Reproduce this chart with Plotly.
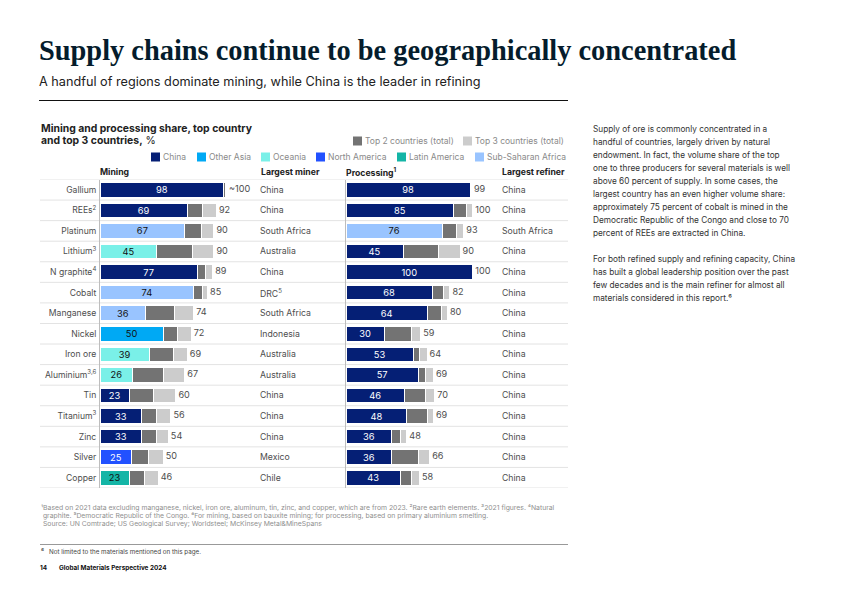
import plotly.graph_objects as go

W, H = 842, 596
FONT = "Inter"
materials = ["Gallium", "REEs<sup>2</sup>", "Platinum", "Lithium<sup>3</sup>", "N graphite<sup>4</sup>", "Cobalt",
             "Manganese", "Nickel", "Iron ore", "Aluminium<sup>3,6</sup>", "Tin", "Titanium<sup>3</sup>", "Zinc", "Silver", "Copper"]
mine_top1 = [98, 69, 67, 45, 77, 74, 36, 50, 39, 26, 23, 33, 33, 25, 23]
mine_top2 = [99, 81, 80, 73, 83, 81, 59, 61, 58, 50, 42, 45, 45, 38, 35]
mine_top3 = [100, 92, 90, 90, 89, 85, 74, 72, 69, 67, 60, 56, 54, 50, 46]
mine_labels = ["~100", "92", "90", "90", "89", "85", "74", "72", "69", "67", "60", "56", "54", "50", "46"]
mine_region = ["China", "China", "Sub-Saharan Africa", "Oceania", "China", "Sub-Saharan Africa", "Sub-Saharan Africa",
               "Other Asia", "Oceania", "Oceania", "China", "China", "China", "North America", "Latin America"]
miners = ["China", "China", "South Africa", "Australia", "China", "DRC<sup>5</sup>", "South Africa", "Indonesia",
          "Australia", "Australia", "China", "China", "China", "Mexico", "Chile"]
proc_top1 = [98, 85, 76, 45, 100, 68, 64, 30, 53, 57, 46, 48, 36, 36, 43]
proc_top2 = [99, 95, 87, 73, 100, 77, 75, 52, 58, 63, 63, 64, 43, 57, 52]
proc_top3 = [99, 100, 93, 90, 100, 82, 80, 59, 64, 69, 70, 69, 48, 66, 58]
proc_region = ["China", "China", "Sub-Saharan Africa"] + ["China"] * 12
refiners = ["China", "China", "South Africa"] + ["China"] * 12

region_colors = {"China": "#051F75", "Other Asia": "#00A9F4", "Oceania": "#7AF0E8", "North America": "#2251FF",
                 "Latin America": "#14B5A6", "Sub-Saharan Africa": "#99C4FF"}
dark_text_regions = ["Other Asia", "Oceania", "Latin America", "Sub-Saharan Africa"]
GRAY2, GRAY3 = "#737373", "#CCCCCC"
TXT = "#4d4d4d"
body_lines = ["Supply of ore is commonly concentrated in a", "handful of countries, largely driven by natural",
              "endowment. In fact, the volume share of the top", "one to three producers for several materials is well",
              "above 60 percent of supply. In some cases, the", "largest country has an even higher volume share:",
              "approximately 75 percent of cobalt is mined in the", "Democratic Republic of the Congo and close to 70",
              "percent of REEs are extracted in China.", "",
              "For both refined supply and refining capacity, China", "has built a global leadership position over the past",
              "few decades and is the main refiner for almost all", "materials considered in this report.⁶"]
foot_lines = ["¹Based on 2021 data excluding manganese, nickel, iron ore, aluminum, tin, zinc, and copper, which are from 2023. ²Rare earth elements. ³2021 figures. ⁴Natural",
              " graphite. ⁵Democratic Republic of the Congo. ⁶For mining, based on bauxite mining; for processing, based on primary aluminium smelting.",
              " Source: UN Comtrade; US Geological Survey; Worldsteel; McKinsey Metal&MineSpans"]


def px(x): return x / W
def py(y): return 1 - y / H


annotations, shapes = [], []


def text(x, y, s, size=8.25, color=TXT, anchor="left", family=FONT):
    annotations.append(dict(x=px(x - 1), y=py(y), xref="paper", yref="paper", text=s, showarrow=False, xanchor=anchor,
                            yanchor="middle", borderpad=0, font=dict(size=size, color=color, family=family), align=anchor))


def swatch(x, y, color):
    shapes.append(dict(type="rect", xref="paper", yref="paper", x0=px(x), x1=px(x + 9), y0=py(y - 4.5), y1=py(y + 4.5),
                       fillcolor=color, line_width=0))


def rule(x0, x1, y, color, width):
    shapes.append(dict(type="line", xref="paper", yref="paper", x0=px(x0), x1=px(x1), y0=py(y), y1=py(y),
                       line=dict(color=color, width=width)))


fig = go.Figure()


def panel(top1, top2, top3, regions, labels, xa, ya):
    colors = [region_colors[r] for r in regions]
    tcolors = ["#111111" if r in dark_text_regions else "#FFFFFF" for r in regions]
    common = dict(y=materials, orientation="h", xaxis=xa, yaxis=ya, showlegend=False, hoverinfo="skip")
    fig.add_bar(x=top1, marker=dict(color=colors, line=dict(color="white", width=1)), text=[str(v) for v in top1],
                textposition="inside", insidetextanchor="middle", textangle=0, constraintext="none",
                textfont=dict(color=tcolors, size=9.3, family=FONT), **common)
    fig.add_bar(x=[b - a for a, b in zip(top1, top2)], marker=dict(color=GRAY2, line=dict(color="white", width=1)), **common)
    fig.add_bar(x=[b - a for a, b in zip(top2, top3)], marker=dict(color=GRAY3, line=dict(color="white", width=1)), **common)
    fig.add_scatter(x=top3, y=materials, mode="text", text=[" " + s for s in labels], textposition="middle right",
                    textfont=dict(size=9.1, color=TXT, family=FONT), xaxis=xa, yaxis=ya, showlegend=False,
                    hoverinfo="skip", cliponaxis=False)


panel(mine_top1, mine_top2, mine_top3, mine_region, mine_labels, "x", "y")
panel(proc_top1, proc_top2, proc_top3, proc_region, [str(v) for v in proc_top3], "x2", "y2")

# table-like columns, tied to the categories of the y axis
for m, c1, c2 in zip(materials, miners, refiners):
    for x, c in ((259, c1), (501, c2)):
        annotations.append(dict(x=px(x), y=m, xref="paper", yref="y", text=c, showarrow=False, xanchor="left",
                                yanchor="middle", borderpad=0, font=dict(size=8.7, color=TXT, family=FONT)))
for i in range(len(materials) + 1):
    shapes.append(dict(type="line", xref="paper", yref="y", x0=px(40), x1=px(568), y0=i - 0.5, y1=i - 0.5,
                       line=dict(color="#E3E3E3", width=1), layer="below"))

text(39, 51, "<b>Supply chains continue to be geographically concentrated</b>", size=28.4, color="#051C2C", family="Liberation Serif")
text(39, 82, "A handful of regions dominate mining, while China is the leader in refining", size=12.7, color="#222222")
rule(39, 568, 100.5, "#111111", 1)
text(41, 128, "<b>Mining and processing share, top country</b>", size=10.4, color="#222222")
text(41, 140, "<b>and top 3 countries,</b> %", size=10.4, color="#222222")

legend_row1 = [("Top 2 countries (total)", GRAY2, 353), ("Top 3 countries (total)", GRAY3, 463)]
for name, col, x in legend_row1:
    swatch(x, 141, col)
    text(x + 12, 141, name, size=8.5, color="#8a8a8a")
legend_row2 = [("China", 151), ("Other Asia", 197), ("Oceania", 261), ("North America", 316), ("Latin America", 397), ("Sub-Saharan Africa", 475)]
for name, x in legend_row2:
    swatch(x, 157, region_colors[name])
    text(x + 12, 157, name, size=8.5, color="#8a8a8a")

text(100, 172, "<b>Mining</b>", size=8.7, color="#222222")
text(261, 172, "<b>Largest miner</b>", size=8.7, color="#222222")
text(346, 172, "<b>Processing<sup>1</sup></b>", size=8.7, color="#222222")
text(502, 172, "<b>Largest refiner</b>", size=8.7, color="#222222")

for i, line in enumerate(body_lines):
    if line:
        text(593, 129 + i * 13, line, size=8.25, color="#333333")
for i, line in enumerate(foot_lines):
    text(41, 507 + i * 8, line, size=6.83, color="#8f8f8f")
rule(40, 568, 544.5, "#999999", 1)
text(41, 551, "⁶", size=7, color="#444444")
text(49, 552, "Not limited to the materials mentioned on this page.", size=6.25, color="#444444")
text(40, 568, "<b>14</b>", size=6.4, color="#111111")
text(59, 568, "<b>Global Materials Perspective 2024</b>", size=6.4, color="#111111")

y_top, y_bot = 179.5, 488
x_rng = [0, 120]
yaxis_common = dict(type="category", categoryorder="array", categoryarray=materials, autorange=False, range=[14.5, -0.5],
                    domain=[py(y_bot), py(y_top)], showgrid=False, zeroline=False, showline=True, linecolor="#BDBDBD",
                    linewidth=1, ticks="")
xaxis_common = dict(range=x_rng, visible=False, showgrid=False, zeroline=False)
fig.update_layout(
    width=W, height=H, margin=dict(l=0, r=0, t=0, b=0), paper_bgcolor="white", plot_bgcolor="white",
    barmode="stack", bargap=0.29, showlegend=False, font=dict(family=FONT, color=TXT),
    xaxis=dict(domain=[px(100), px(100 + 151.8)], anchor="y", **xaxis_common),
    xaxis2=dict(domain=[px(346), px(346 + 152)], anchor="y2", **xaxis_common),
    yaxis=dict(anchor="x", showticklabels=True, ticklabelstandoff=1, tickfont=dict(size=8.6, color=TXT, family=FONT), **yaxis_common),
    yaxis2=dict(anchor="x2", showticklabels=False, **yaxis_common),
    annotations=annotations, shapes=shapes,
)
fig.write_html("out.html", config={"displayModeBar": False},
               post_script="document.body.style.margin='0';document.body.style.overflow='hidden';")
